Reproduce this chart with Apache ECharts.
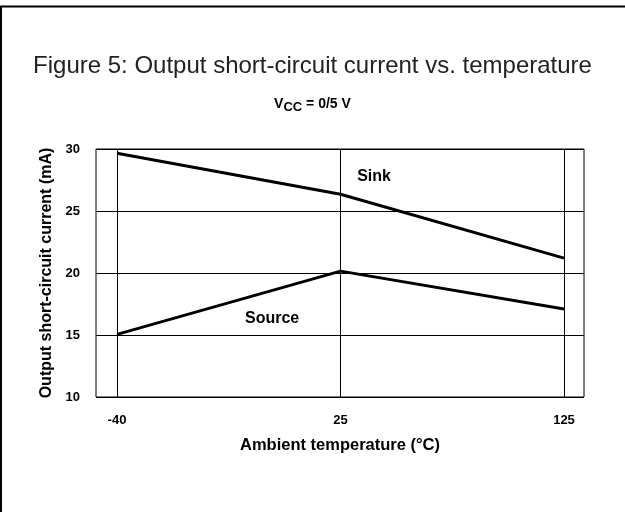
<!DOCTYPE html>
<html>
<head>
<meta charset="utf-8">
<script src="https://cdn.jsdelivr.net/npm/echarts@6/dist/echarts.min.js"></script>
<style>
html,body{margin:0;padding:0;background:#fff;}
#c{width:625px;height:512px;}
</style>
</head>
<body>
<div id="c"></div>
<script>
// Data
var tempLabels = ['-40', '25', '125'];
var sinkValues = [29.65, 26.35, 21.2];
var sourceValues = [15.05, 20.15, 17.1];
var yTicks = [10, 15, 20, 25, 30];
var annotations = [
  { name: 'Sink', x: 1.15, y: 27.78 },
  { name: 'Source', x: 0.694, y: 16.29 }
];

var FONT = '"Liberation Sans", Arial, sans-serif';
function pts(vals) { return vals.map(function (v, i) { return [i, v]; }); }

var chart = echarts.init(document.getElementById('c'), null, { renderer: 'canvas' });
chart.setOption({
  animation: false,
  backgroundColor: '#fff',
  title: [
    {
      text: 'Figure 5: Output short-circuit current vs. temperature',
      left: 'center', top: 49,
      textStyle: { fontFamily: FONT, fontSize: 24, fontWeight: 'normal', color: '#222' }
    },
    {
      text: '{v|V}{s|CC}{r| = 0/5 V}',
      left: 'center', top: 90,
      textStyle: {
        rich: {
          v: { fontFamily: FONT, fontSize: 14, fontWeight: 'bold', color: '#000' },
          s: { fontFamily: FONT, fontSize: 13, fontWeight: 'bold', color: '#000', padding: [6, 0, 0, 0] },
          r: { fontFamily: FONT, fontSize: 14, fontWeight: 'bold', color: '#000' }
        }
      }
    }
  ],
  graphic: [
    { type: 'line', shape: { x1: 0, y1: 6.5, x2: 625, y2: 6.5 }, style: { stroke: '#000', lineWidth: 2 }, silent: true },
    { type: 'line', shape: { x1: 1, y1: 6, x2: 1, y2: 512 }, style: { stroke: '#000', lineWidth: 2 }, silent: true }
  ],
  grid: {
    left: 96, top: 149, right: 41, bottom: 115,
    show: true, borderColor: '#000', borderWidth: 1, backgroundColor: 'transparent'
  },
  xAxis: {
    type: 'value',
    min: -0.094, max: 2.0895,
    axisLine: { show: false },
    axisTick: { show: false },
    splitLine: { show: false },
    axisLabel: {
      customValues: [0, 1, 2],
      formatter: function (v) { return tempLabels[Math.round(v)]; },
      fontFamily: FONT, fontSize: 13, fontWeight: 'bold', color: '#000', margin: 17
    },
    name: 'Ambient temperature (°C)',
    nameLocation: 'middle', nameGap: 40,
    nameTextStyle: { fontFamily: FONT, fontSize: 16.5, fontWeight: 'bold', color: '#000' }
  },
  yAxis: {
    type: 'value',
    min: 10, max: 30, interval: 5,
    axisLine: { show: false },
    axisTick: { show: false },
    splitLine: { show: true, lineStyle: { color: '#000', width: 1 } },
    axisLabel: {
      formatter: function (v) { return yTicks.indexOf(v) >= 0 ? String(v) : ''; },
      fontFamily: FONT, fontSize: 13, fontWeight: 'bold', color: '#000', margin: 16
    },
    name: 'Output short-circuit current (mA)',
    nameLocation: 'middle', nameGap: 37, nameRotate: 90,
    nameTextStyle: { fontFamily: FONT, fontSize: 16, fontWeight: 'bold', color: '#000' }
  },
  series: [
    {
      name: 'Sink', type: 'line', data: pts(sinkValues),
      symbol: 'none', lineStyle: { color: '#000', width: 3 }, silent: true,
      markLine: {
        silent: true, symbol: 'none', label: { show: false },
        lineStyle: { color: '#000', width: 1, type: 'solid' },
        data: tempLabels.map(function (t, i) { return { xAxis: i }; })
      },
      markPoint: {
        symbol: 'circle', symbolSize: 0, silent: true,
        label: {
          show: true, position: 'inside',
          fontFamily: FONT, fontSize: 16, fontWeight: 'bold', color: '#000',
          formatter: function (p) { return p.name; }
        },
        data: annotations.map(function (a) { return { name: a.name, coord: [a.x, a.y] }; })
      }
    },
    {
      name: 'Source', type: 'line', data: pts(sourceValues),
      symbol: 'none', lineStyle: { color: '#000', width: 3 }, silent: true
    }
  ]
});
</script>
</body>
</html>
